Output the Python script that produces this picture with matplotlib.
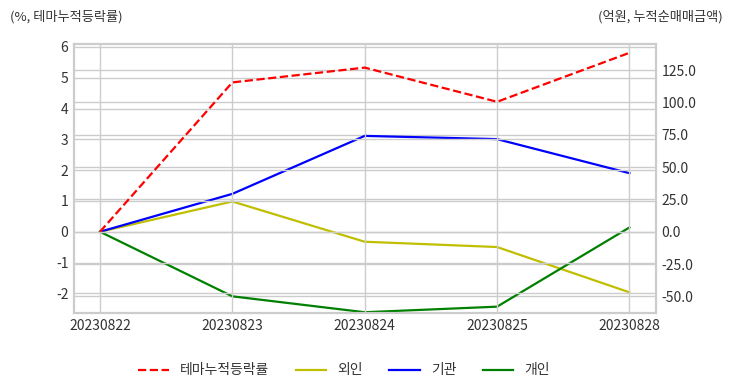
import matplotlib
matplotlib.use("Agg")
import matplotlib.pyplot as plt
from matplotlib.ticker import FormatStrFormatter

plt.rcParams['font.family'] = ['Noto Sans CJK KR', 'DejaVu Sans']
plt.rcParams['axes.unicode_minus'] = False

dates = ["20230822", "20230823", "20230824", "20230825", "20230828"]
theme_rate = [0.0, 4.85, 5.33, 4.22, 5.81]
foreign = [0.0, 23.4, -7.7, -11.8, -46.8]
institution = [0.0, 29.3, 74.1, 71.6, 45.3]
individual = [0.0, -49.9, -62.2, -57.9, 3.3]

left_ticks = [-2, -1, 0, 1, 2, 3, 4, 5, 6]
right_ticks = [-50, -25, 0, 25, 50, 75, 100, 125]

fig = plt.figure(figsize=(7.32, 3.92), dpi=100)
ax = fig.add_axes([0.101, 0.2015, 0.795, 0.6865])
ax2 = ax.twinx()

x = list(range(len(dates)))
grid_c = '#cccccc'
for a in (ax, ax2):
    for s in a.spines.values():
        s.set_color(grid_c)
        s.set_linewidth(1.5)
    a.tick_params(length=0, labelsize=10, colors='#333333', pad=4)
    a.grid(True, color=grid_c, linewidth=1.0)
    a.set_axisbelow(True)

l1, = ax.plot(x, theme_rate, color='red', linestyle='--', linewidth=1.6, label='테마누적등락률', zorder=5)
l2, = ax2.plot(x, foreign, color='y', linewidth=1.6, label='외인')
l3, = ax2.plot(x, institution, color='b', linewidth=1.6, label='기관')
l4, = ax2.plot(x, individual, color='g', linewidth=1.6, label='개인')

ax.set_xticks(x)
ax.set_xticklabels(dates)
ax.set_xlim(-0.197, 4.2)
ax.set_ylim(-2.64, 6.10)
ax.set_yticks(left_ticks)
ax2.set_ylim(-62.8, 145.2)
ax2.set_yticks(right_ticks)
ax2.yaxis.set_major_formatter(FormatStrFormatter('%.1f'))
ax2.grid(True, color=grid_c, linewidth=1.0)
ax.xaxis.grid(True)
ax2.xaxis.grid(False)

ax.set_zorder(ax2.get_zorder() + 1)
ax.patch.set_visible(False)

fig.text(0.013, 0.958, '(%, 테마누적등락률)', fontsize=9.5, color='#333333', ha='left', va='center')
fig.text(0.987, 0.958, '(억원, 누적순매매금액)', fontsize=9.5, color='#333333', ha='right', va='center')

fig.legend(handles=[l1, l2, l3, l4], loc='center', bbox_to_anchor=(0.47, 0.055),
           ncol=4, frameon=False, fontsize=10, handlelength=2.2, columnspacing=1.9,
           handletextpad=0.8, labelcolor='#333333')

fig.savefig('out.png', dpi=100, facecolor='white')
